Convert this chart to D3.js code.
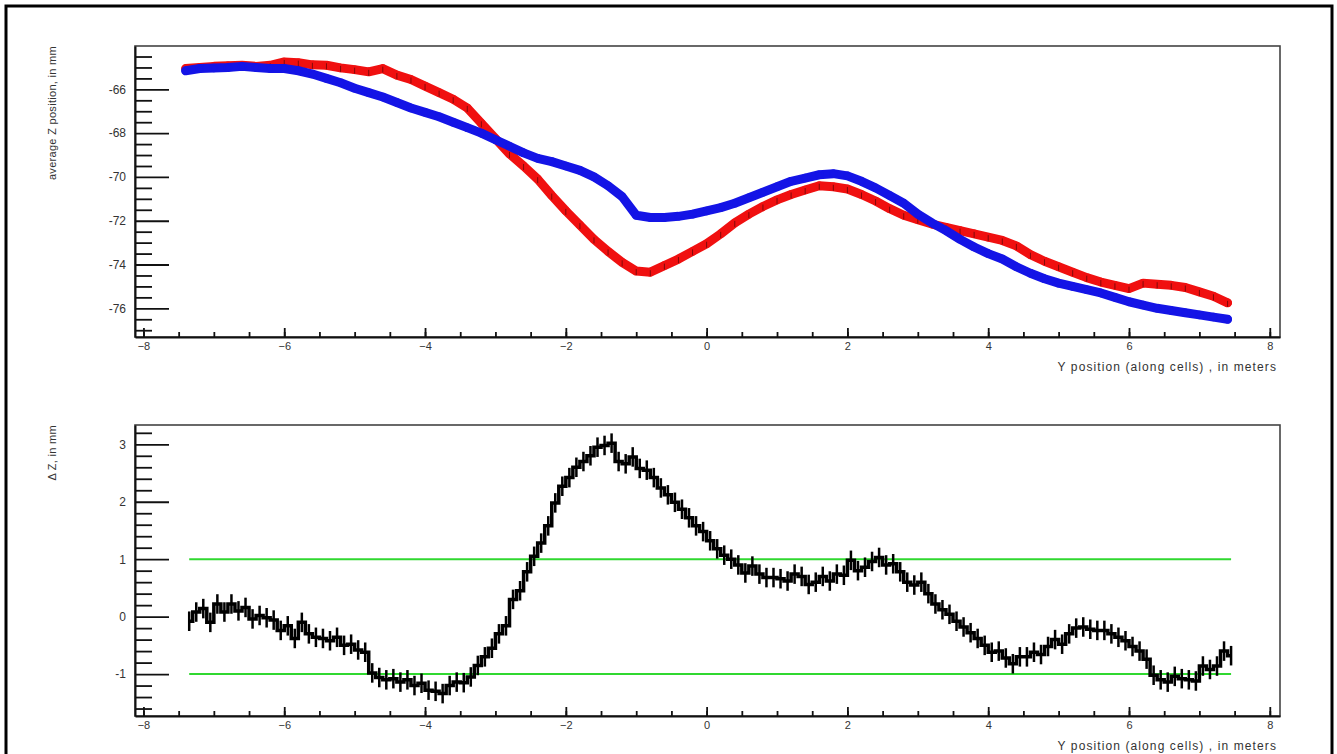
<!DOCTYPE html>
<html>
<head>
<meta charset="utf-8">
<script src="https://cdn.jsdelivr.net/npm/d3@7"></script>
<style>
body { margin: 0; background: #fff; }
svg text { font-family: "Liberation Sans", Arial, sans-serif; fill: #333; }
</style>
</head>
<body>
<svg id="chart" width="1337" height="754"></svg>
<script>
// top pad: average Z position along the cells
var posTop = [-7.4,-7.2,-7.0,-6.8,-6.6,-6.4,-6.2,-6.0,-5.8,-5.6,-5.4,-5.2,-5.0,-4.8,-4.6,-4.4,-4.2,-4.0,-3.8,-3.6,
  -3.4,-3.2,-3.0,-2.8,-2.6,-2.4,-2.2,-2.0,-1.8,-1.6,-1.4,-1.2,-1.0,-0.8,-0.6,-0.4,-0.2,0.0,0.2,0.4,
  0.6,0.8,1.0,1.2,1.4,1.6,1.8,2.0,2.2,2.4,2.6,2.8,3.0,3.2,3.4,3.6,3.8,4.0,4.2,4.4,
  4.6,4.8,5.0,5.2,5.4,5.6,5.8,6.0,6.2,6.4,6.6,6.8,7.0,7.2,7.4];
var zRed = [-65.05,-65.0,-64.95,-64.92,-64.9,-64.95,-64.9,-64.75,-64.78,-64.88,
  -64.9,-65.02,-65.1,-65.2,-65.05,-65.35,-65.55,-65.85,-66.15,-66.45,
  -66.85,-67.55,-68.25,-68.95,-69.5,-70.1,-70.85,-71.55,-72.2,-72.85,
  -73.4,-73.9,-74.3,-74.35,-74.05,-73.75,-73.4,-73.05,-72.6,-72.1,
  -71.7,-71.35,-71.05,-70.8,-70.6,-70.4,-70.45,-70.55,-70.8,-71.1,
  -71.45,-71.75,-71.95,-72.15,-72.3,-72.45,-72.6,-72.75,-72.9,-73.15,
  -73.55,-73.85,-74.1,-74.35,-74.6,-74.8,-74.95,-75.1,-74.85,-74.9,
  -74.95,-75.05,-75.25,-75.45,-75.75];
var zBlue = [-65.15,-65.05,-65.02,-65.0,-64.95,-65.0,-65.05,-65.05,-65.15,-65.3,
  -65.5,-65.7,-65.95,-66.15,-66.35,-66.6,-66.85,-67.05,-67.25,-67.5,
  -67.75,-68.0,-68.3,-68.6,-68.9,-69.15,-69.3,-69.5,-69.7,-70.0,
  -70.4,-70.9,-71.75,-71.85,-71.85,-71.8,-71.7,-71.55,-71.4,-71.2,
  -70.95,-70.7,-70.45,-70.2,-70.05,-69.9,-69.85,-69.95,-70.2,-70.5,
  -70.85,-71.2,-71.7,-72.1,-72.45,-72.85,-73.2,-73.5,-73.75,-74.1,
  -74.4,-74.65,-74.85,-75.0,-75.15,-75.3,-75.5,-75.7,-75.85,-76.0,
  -76.1,-76.2,-76.3,-76.4,-76.5];

// bottom pad: difference of the two profiles
var posBottom = [-7.35,-7.25,-7.15,-7.05,-6.95,-6.85,-6.75,-6.65,-6.55,-6.45,
  -6.35,-6.25,-6.15,-6.05,-5.95,-5.85,-5.75,-5.65,-5.55,-5.45,
  -5.35,-5.25,-5.15,-5.05,-4.95,-4.85,-4.75,-4.65,-4.55,-4.45,
  -4.35,-4.25,-4.15,-4.05,-3.95,-3.85,-3.75,-3.65,-3.55,-3.45,
  -3.35,-3.25,-3.15,-3.05,-2.95,-2.85,-2.75,-2.65,-2.55,-2.45,
  -2.35,-2.25,-2.15,-2.05,-1.95,-1.85,-1.75,-1.65,-1.55,-1.45,
  -1.35,-1.25,-1.15,-1.05,-0.95,-0.85,-0.75,-0.65,-0.55,-0.45,
  -0.35,-0.25,-0.15,-0.05,0.05,0.15,0.25,0.35,0.45,0.55,
  0.65,0.75,0.85,0.95,1.05,1.15,1.25,1.35,1.45,1.55,
  1.65,1.75,1.85,1.95,2.05,2.15,2.25,2.35,2.45,2.55,
  2.65,2.75,2.85,2.95,3.05,3.15,3.25,3.35,3.45,3.55,
  3.65,3.75,3.85,3.95,4.05,4.15,4.25,4.35,4.45,4.55,
  4.65,4.75,4.85,4.95,5.05,5.15,5.25,5.35,5.45,5.55,
  5.65,5.75,5.85,5.95,6.05,6.15,6.25,6.35,6.45,6.55,
  6.65,6.75,6.85,6.95,7.05,7.15,7.25,7.35,7.45];
var dZ = [-0.08,0.08,0.14,-0.1,0.22,0.08,0.22,0.1,0.16,-0.04,
  0.02,-0.02,-0.06,-0.24,-0.16,-0.38,-0.1,-0.3,-0.36,-0.38,
  -0.42,-0.36,-0.5,-0.48,-0.58,-0.62,-0.98,-1.06,-1.1,-1.08,
  -1.14,-1.1,-1.2,-1.16,-1.28,-1.3,-1.34,-1.2,-1.14,-1.15,
  -1.05,-0.85,-0.7,-0.55,-0.3,-0.16,0.3,0.45,0.78,1.05,
  1.28,1.58,1.98,2.27,2.42,2.6,2.7,2.8,2.95,2.98,
  3.02,2.7,2.66,2.78,2.58,2.55,2.42,2.24,2.12,1.99,
  1.87,1.72,1.58,1.48,1.32,1.18,1.07,1.0,0.9,0.76,
  0.88,0.74,0.68,0.68,0.66,0.62,0.74,0.7,0.56,0.6,
  0.7,0.62,0.74,0.72,0.98,0.8,0.86,0.96,1.03,0.9,
  0.92,0.78,0.6,0.55,0.6,0.4,0.22,0.12,0.04,-0.08,
  -0.18,-0.28,-0.38,-0.5,-0.62,-0.6,-0.72,-0.82,-0.7,-0.7,
  -0.62,-0.66,-0.52,-0.4,-0.48,-0.3,-0.2,-0.18,-0.22,-0.24,
  -0.24,-0.3,-0.36,-0.42,-0.52,-0.6,-0.74,-1.02,-1.1,-1.14,
  -1.04,-1.08,-1.1,-1.12,-0.86,-0.92,-0.86,-0.6,-0.68];
var bandLimits = [1, -1];
var bandRange = [-7.35, 7.45];

var xTicks = [-8, -6, -4, -2, 0, 2, 4, 6, 8];
var topTicks = [-66, -68, -70, -72, -74, -76];
var bottomTicks = [3, 2, 1, 0, -1];

var xTitle = 'Y position (along cells) , in meters';
var topTitle = 'average Z position, in mm';
var bottomTitle = '\u0394 Z, in mm';

var svg = d3.select('#chart');

svg.append('rect')
  .attr('x', 6).attr('y', 6).attr('width', 1326).attr('height', 770)
  .attr('fill', 'none').attr('stroke', '#000').attr('stroke-width', 3);

var left = 135, right = 1280;
var x = d3.scaleLinear().domain([-8.12, 8.145]).range([left, right]);

function drawPad(top, bottom, yScale, majors, minors, yTitle) {
  var g = svg.append('g');

  g.append('rect')
    .attr('x', left).attr('y', top).attr('width', right - left).attr('height', bottom - top)
    .attr('fill', 'none').attr('stroke', '#444').attr('stroke-width', 1.6);

  var minorY = g.append('g').attr('transform', 'translate(' + left + ',0)')
    .call(d3.axisLeft(yScale).tickValues(minors).tickSizeInner(-17).tickSizeOuter(0).tickFormat(''));
  minorY.select('.domain').remove();

  var majorY = g.append('g').attr('transform', 'translate(' + left + ',0)')
    .call(d3.axisLeft(yScale).tickValues(majors).tickSizeInner(-34).tickSizeOuter(0).tickPadding(9)
      .tickFormat(d3.format('d')));
  majorY.selectAll('text').style('font-size', '12px').text(function(d) { return String(d); });

  var minorX = g.append('g').attr('transform', 'translate(0,' + bottom + ')')
    .call(d3.axisBottom(x).tickValues(d3.range(-8, 8.01, 0.5)).tickSizeInner(-5).tickSizeOuter(0).tickFormat(''));
  minorX.select('.domain').remove();

  var majorX = g.append('g').attr('transform', 'translate(0,' + bottom + ')')
    .call(d3.axisBottom(x).tickValues(xTicks).tickSizeInner(-9).tickSizeOuter(0).tickPadding(5)
      .tickFormat(d3.format('d')));
  majorX.selectAll('text').style('font-size', '11px');

  g.selectAll('.tick line').attr('stroke', '#111').attr('stroke-width', 1.8);
  g.selectAll('.domain').attr('stroke', '#111').attr('stroke-width', 2);

  g.append('text')
    .attr('x', 1277).attr('y', bottom + 34)
    .attr('text-anchor', 'end').style('font-size', '12px').style('letter-spacing', '1.1px')
    .text(xTitle);

  g.append('text')
    .attr('transform', 'translate(56,' + top + ') rotate(-90)')
    .attr('text-anchor', 'end').style('font-size', '11px').style('letter-spacing', '0.3px')
    .text(yTitle);
  return g;
}

// ---- top pad
var yTop = d3.scaleLinear().domain([-77.31, -64.02]).range([337, 46]);
var topMinor = d3.range(-77, -63.9, 0.5).filter(function(v) { return Math.abs(v % 2) > 0.01; });
var topPad = drawPad(46, 337, yTop, topTicks, topMinor, topTitle);

function drawProfile(values, color, withErrors) {
  var pts = posTop.map(function(p, i) { return [p, values[i]]; });
  var line = d3.line().x(function(d) { return x(d[0]); }).y(function(d) { return yTop(d[1]); })
    .curve(d3.curveLinear);
  topPad.append('path').datum(pts).attr('d', line)
    .attr('fill', 'none').attr('stroke', color).attr('stroke-width', 9)
    .attr('stroke-linejoin', 'round').attr('stroke-linecap', 'round');
  topPad.selectAll(null).data(pts).enter().append('circle')
    .attr('cx', function(d) { return x(d[0]); }).attr('cy', function(d) { return yTop(d[1]); })
    .attr('r', 3.5).attr('fill', 'none').attr('stroke', color).attr('stroke-width', 1.5);
  if (withErrors) {
    topPad.selectAll(null).data(pts).enter().append('line')
      .attr('x1', function(d) { return x(d[0]); }).attr('x2', function(d) { return x(d[0]); })
      .attr('y1', function(d) { return yTop(d[1]) - 2; }).attr('y2', function(d) { return yTop(d[1]) + 4; })
      .attr('stroke', '#000').attr('stroke-width', 1).attr('opacity', 0.45);
  }
}
drawProfile(zRed, '#f01010', true);
drawProfile(zBlue, '#1414e6', false);

// ---- bottom pad
var yBot = d3.scaleLinear().domain([-1.73, 3.336]).range([716, 425]);
var botMinor = d3.range(-1.6, 3.31, 0.2).filter(function(v) { return Math.abs(v - Math.round(v)) > 0.01; });
var botPad = drawPad(425, 716, yBot, bottomTicks, botMinor, bottomTitle);

bandLimits.forEach(function(v) {
  botPad.append('line')
    .attr('x1', x(bandRange[0])).attr('x2', x(bandRange[1]))
    .attr('y1', yBot(v)).attr('y2', yBot(v))
    .attr('stroke', '#30d830').attr('stroke-width', 2);
});

var diffPts = posBottom.map(function(p, i) { return [p, dZ[i]]; });
botPad.append('path').datum(diffPts)
  .attr('d', d3.line().x(function(d) { return x(d[0]); }).y(function(d) { return yBot(d[1]); }).curve(d3.curveStep))
  .attr('fill', 'none').attr('stroke', '#000').attr('stroke-width', 3.5);
botPad.selectAll(null).data(diffPts).enter().append('line')
  .attr('x1', function(d) { return x(d[0]); }).attr('x2', function(d) { return x(d[0]); })
  .attr('y1', function(d) { return yBot(d[1] + 0.17); }).attr('y2', function(d) { return yBot(d[1] - 0.17); })
  .attr('stroke', '#000').attr('stroke-width', 2.5);
</script>
</body>
</html>
